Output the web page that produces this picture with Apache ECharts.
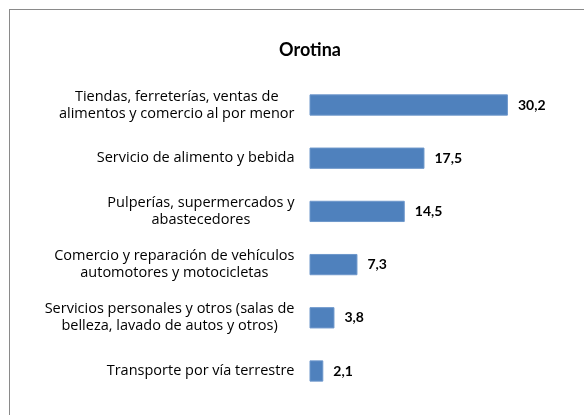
<!DOCTYPE html>
<html>
<head>
<meta charset="utf-8">
<script src="https://cdn.jsdelivr.net/npm/echarts@6/dist/echarts.min.js"></script>
<style>
  html, body { margin: 0; padding: 0; background: #fff; overflow: hidden; }
  #frame { position: absolute; left: 9px; top: 9px; width: 600px; height: 420px; border: 1px solid #8a8a8a; }
  #chart { position: absolute; left: 0; top: 0; width: 584px; height: 415px; }
</style>
</head>
<body>
<div id="frame"></div>
<div id="chart"></div>
<script>
  const chartTitle = 'Orotina'
  const categories = [
    'Tiendas, ferreterías, ventas de\nalimentos y comercio al por menor',
    'Servicio de alimento y bebida',
    'Pulperías, supermercados y\nabastecedores',
    'Comercio y reparación de vehículos\nautomotores y motocicletas',
    'Servicios personales y otros (salas de\nbelleza, lavado de autos y otros)',
    'Transporte por vía terrestre',
  ]
  const values = [30.2, 17.5, 14.5, 7.3, 3.8, 2.1]

  const labelFont = '"Open Sans", sans-serif'
  const titleFont = 'Lato, "Open Sans", sans-serif'

  const chart = echarts.init(document.getElementById('chart'))
  chart.setOption({
    animation: false,
    title: {
      text: chartTitle,
      left: 305,
      top: 36,
      textAlign: 'center',
      textStyle: { fontFamily: titleFont, fontSize: 18, fontWeight: 'bold', color: '#000' },
    },
    grid: {
      left: 309.5,
      right: 11.7,
      top: 78.4,
      bottom: 17.4,
      containLabel: false,
    },
    xAxis: {
      type: 'value',
      min: 0,
      max: 40,
      show: false,
    },
    yAxis: {
      type: 'category',
      inverse: true,
      data: categories,
      axisLine: { show: false },
      axisTick: { show: false },
      axisLabel: {
        margin: 15,
        color: '#000',
        fontFamily: labelFont,
        fontSize: 14.5,
        lineHeight: 17,
        // center each line inside a right-anchored block, like the spreadsheet does
        formatter: function (v) {
          return v.split('\n').map(function (s) { return '{c|' + s + '}' }).join('\n')
        },
        rich: {
          c: { align: 'center', fontFamily: labelFont, fontSize: 14.5, lineHeight: 17, color: '#000' },
        },
      },
    },
    series: [
      {
        type: 'bar',
        data: values,
        barCategoryGap: '60%',
        itemStyle: { color: '#4f81bd', borderColor: '#6d97cb', borderWidth: 1 },
        label: {
          show: true,
          position: 'right',
          distance: 10,
          color: '#000',
          fontFamily: titleFont,
          fontSize: 14,
          fontWeight: 'bold',
          formatter: function (p) { return p.value.toFixed(1).replace('.', ',') },
        },
      },
    ],
  })
</script>
</body>
</html>
